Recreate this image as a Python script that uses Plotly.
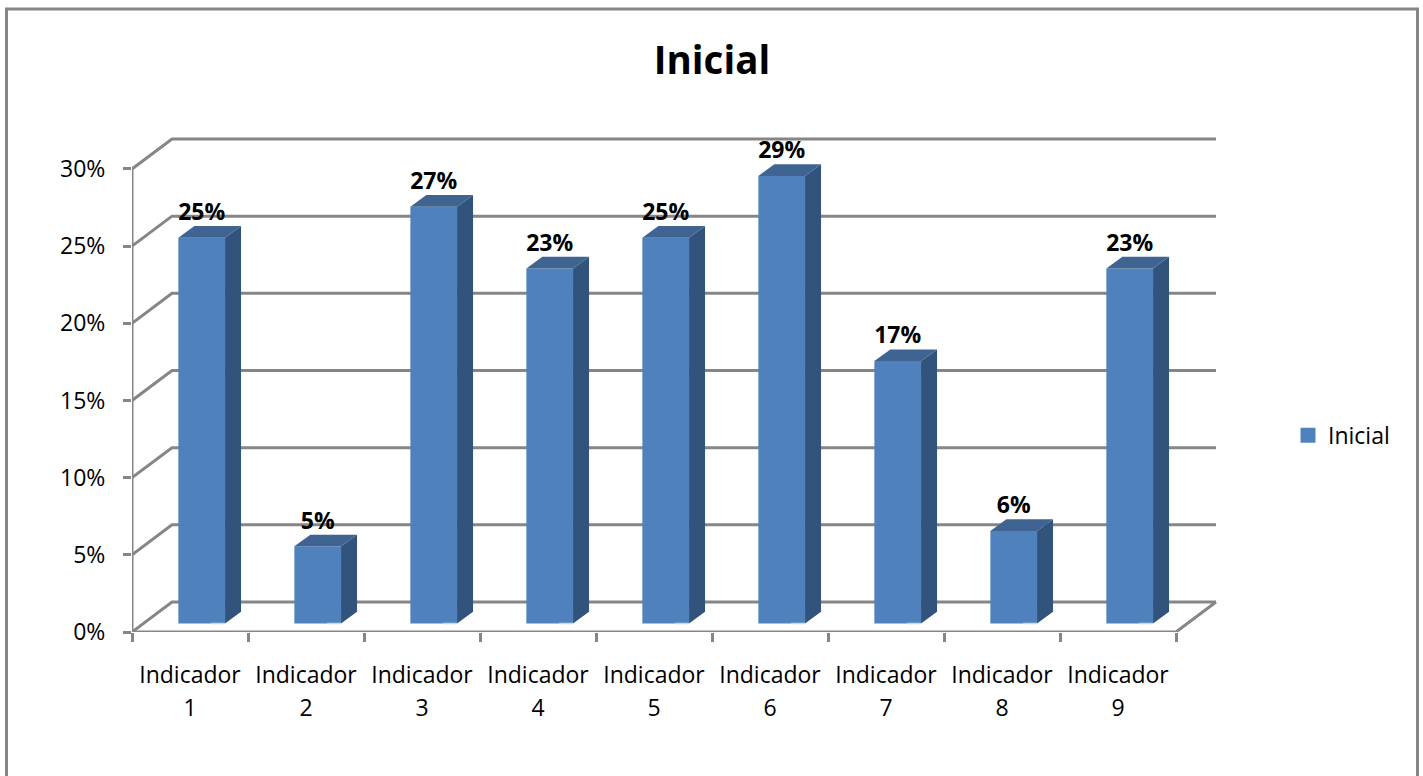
import plotly.graph_objects as go

# ---- data ----
categories = ["Indicador 1", "Indicador 2", "Indicador 3", "Indicador 4", "Indicador 5",
              "Indicador 6", "Indicador 7", "Indicador 8", "Indicador 9"]
values = [25, 5, 27, 23, 25, 29, 17, 6, 23]
y_ticks = [0, 5, 10, 15, 20, 25, 30]
series_name = "Inicial"
chart_title = "Inicial"

# ---- look ----
W, H = 1423, 776
FONT = "Open Sans"
GRAY = "#868686"
FRONT, SIDE, TOP = "#4f81bd", "#32537c", "#3f6492"
PL, PR, PT, PB = 132, 1222, 130, 632.5    # plot area in pixels
PX_X, PX_Y = 116.0, 15.45                 # pixels per category / per percent
WALL_DX, WALL_DY = 40 / PX_X, 30 / PX_Y   # depth of the chart floor
BAR_DX, BAR_DY = 11.7 / PX_X, 8.5 / PX_Y  # front plane of the bars
FACE_DX, FACE_DY = 16 / PX_X, 11.7 / PX_Y # depth of the bars
BAR_W = 46.7 / PX_X
LABEL_UP = 32 / PX_Y
LINE_W = 3

xr = [0.5, 0.5 + (PR - PL) / PX_X]
yr = [0, (PB - PT) / PX_Y]
n = len(categories)
pos = list(range(1, n + 1))
x_end = n + 0.5
y_top = max(y_ticks)

fig = go.Figure()

# walls: gridlines running along the side wall and the back wall
wx, wy = [], []
for t in y_ticks:
    wx += [0.5, 0.5 + WALL_DX, x_end + WALL_DX, None]
    wy += [t, t + WALL_DY, t + WALL_DY, None]
fig.add_trace(go.Scatter(x=wx, y=wy, mode="lines", line=dict(color=GRAY, width=LINE_W),
                         showlegend=False, hoverinfo="skip", cliponaxis=False))
# front axis lines and right floor edge
fig.add_trace(go.Scatter(x=[0.5, 0.5, None, 0.5, x_end, x_end + WALL_DX],
                         y=[y_top, 0, None, 0, 0, WALL_DY],
                         mode="lines", line=dict(color=GRAY, width=LINE_W),
                         showlegend=False, hoverinfo="skip", cliponaxis=False))

# bar faces
sx, sy, tx, ty = [], [], [], []
for p, v in zip(pos, values):
    l = p + BAR_DX - BAR_W / 2
    r = p + BAR_DX + BAR_W / 2
    b = BAR_DY
    t = v + BAR_DY
    sx += [r, r, r + FACE_DX, r + FACE_DX, r, None]
    sy += [b, t, t + FACE_DY, b + FACE_DY, b, None]
    tx += [l, r, r + FACE_DX, l + FACE_DX, l, None]
    ty += [t, t, t + FACE_DY, t + FACE_DY, t, None]
for fx, fy, col in ((sx, sy, SIDE), (tx, ty, TOP)):
    fig.add_trace(go.Scatter(x=fx, y=fy, xaxis="x2", mode="lines", fill="toself", fillcolor=col,
                             line=dict(color=col, width=0), showlegend=False, hoverinfo="skip"))

fig.add_trace(go.Bar(x=[p + BAR_DX for p in pos], y=values, base=BAR_DY, width=BAR_W, xaxis="x2",
                     name=series_name, showlegend=False, marker=dict(color=FRONT, line=dict(width=0)),
                     customdata=categories, hovertemplate="%{customdata}: " + "%{y}%<extra></extra>"))

# legend key for the series, at the size of the reference swatch
fig.add_trace(go.Scatter(x=[None], y=[None], xaxis="x2", name=series_name, mode="markers",
                         marker=dict(symbol="square", size=15, color=FRONT), hoverinfo="skip"))

# light edge at the foot of each bar
hx, hy = [], []
for p in pos:
    r = p + BAR_DX + BAR_W / 2
    hx += [r - 14 / PX_X, r, None]
    hy += [BAR_DY, BAR_DY, None]
fig.add_trace(go.Scatter(x=hx, y=hy, xaxis="x2", mode="lines", line=dict(color="#c6d9f1", width=1.5),
                         showlegend=False, hoverinfo="skip"))

# data labels
fig.add_trace(go.Scatter(x=[p + BAR_DX for p in pos], y=[v + LABEL_UP for v in values], xaxis="x2",
                         mode="text", text=[f"{v}%" for v in values], textposition="middle center",
                         textfont=dict(family=FONT, size=23, color="black", weight="bold"),
                         showlegend=False, hoverinfo="skip", cliponaxis=False))

tick_text = []
for c in categories:
    a, b = c.rsplit(" ", 1)
    tick_text.append(f"<span style='font-size:23px'>{a}</span><br><span style='font-size:23px'>{b}</span>")

def px_x(v): return (v - PL) / (PR - PL)
def px_y(v): return (PB - v) / (PB - PT)

fig.update_layout(
    width=W, height=H, margin=dict(l=PL, r=W - PR, t=PT, b=H - PB, autoexpand=False),
    paper_bgcolor="white", plot_bgcolor="rgba(0,0,0,0)",
    font=dict(family=FONT, color="black", size=22),
    title=dict(text=f"<b>{chart_title}</b>", x=712 / W, xanchor="center", y=1 - 61 / H, yanchor="middle",
               font=dict(family=FONT, size=38.5, color="black")),
    xaxis=dict(range=xr, tickmode="array", tickvals=[0.5 + i for i in range(n + 1)],
               showticklabels=False, ticks="outside", ticklen=9, tickwidth=LINE_W, tickcolor=GRAY,
               showgrid=False, zeroline=False, showline=False),
    xaxis2=dict(range=xr, overlaying="x", anchor="y", side="bottom", tickmode="array", tickvals=pos,
                ticktext=tick_text, ticks="", showgrid=False, zeroline=False, showline=False,
                tickangle=0, tickfont=dict(family=FONT, size=25.4, color="black"), ticklabelstandoff=25),
    yaxis=dict(range=yr, tickmode="array", tickvals=y_ticks, ticktext=[f"{t}%" for t in y_ticks],
               ticks="outside", ticklen=8, tickwidth=LINE_W, tickcolor=GRAY, showgrid=False, zeroline=False,
               showline=False, tickfont=dict(family=FONT, size=23, color="black"), ticklabelstandoff=13),
    legend=dict(x=(1288 - PL) / (PR - PL), xref="paper", xanchor="left",
                y=px_y(435.5), yref="paper", yanchor="middle",
                bgcolor="rgba(0,0,0,0)", font=dict(family=FONT, size=23)),
    shapes=[dict(type="rect", xref="paper", yref="paper", layer="below",
                 x0=px_x(6.5), x1=px_x(1417.5), y0=px_y(800), y1=px_y(9),
                 line=dict(color=GRAY, width=LINE_W), fillcolor="rgba(0,0,0,0)")],
)

fig.write_html("out.html", config=dict(displayModeBar=False),
               post_script="document.body.style.margin='0';document.body.style.overflow='hidden';")
